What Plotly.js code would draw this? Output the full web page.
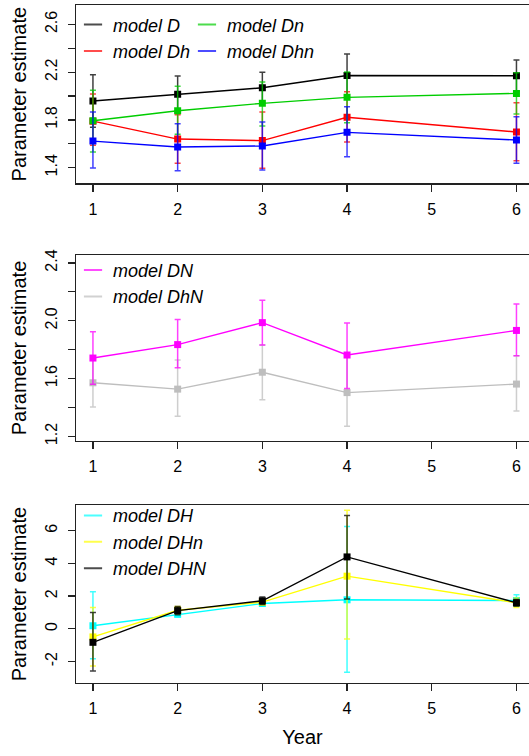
<!DOCTYPE html>
<html>
<head>
<meta charset="utf-8">
<script src="https://cdn.plot.ly/plotly-3.0.1.min.js"></script>
<style>
  html, body { margin: 0; padding: 0; background: #ffffff; }
  #chart { width: 529px; height: 756px; }
</style>
</head>
<body>
<div id="chart"></div>
<script>
// Survey years with estimates
const years = [1, 2, 3, 4, 6];
const yearTicks = [1, 2, 3, 4, 5, 6];
const yearLabels = ['1', '2', '3', '4', '5', '6'];

// Labelled y ticks per panel
const ticksTop = [1.4, 1.8, 2.2, 2.6];
const labelsTop = ['1.4', '1.8', '2.2', '2.6'];
const ticksMid = [1.2, 1.6, 2.0, 2.4];
const labelsMid = ['1.2', '1.6', '2.0', '2.4'];
const ticksBot = [-2, 0, 2, 4, 6];
const labelsBot = ['-2', '0', '2', '4', '6'];

// Top panel: models D, Dh, Dn, Dhn (estimate, lower and upper bound)
const estD   = [1.958, 2.014, 2.069, 2.172, 2.170];
const loD    = [1.738, 1.861, 1.939, 1.993, 2.040];
const hiD    = [2.178, 2.167, 2.199, 2.351, 2.301];

const estDh  = [1.790, 1.640, 1.627, 1.822, 1.699];
const loDh   = [1.588, 1.437, 1.395, 1.615, 1.459];
const hiDh   = [2.017, 1.843, 1.867, 2.036, 1.944];

const estDn  = [1.793, 1.877, 1.939, 1.989, 2.022];
const loDn   = [1.532, 1.680, 1.750, 1.777, 1.849];
const hiDn   = [2.048, 2.081, 2.118, 2.201, 2.195];

const estDhn = [1.623, 1.573, 1.582, 1.696, 1.632];
const loDhn  = [1.398, 1.375, 1.381, 1.492, 1.437];
const hiDhn  = [1.867, 1.768, 1.782, 1.910, 1.827];

// Middle panel: models DN and DhN
const estDN  = [1.742, 1.835, 1.987, 1.763, 1.933];
const loDN   = [1.560, 1.674, 1.833, 1.531, 1.758];
const hiDN   = [1.924, 2.008, 2.141, 1.984, 2.115];

const estDhN = [1.571, 1.527, 1.644, 1.503, 1.562];
const loDhN  = [1.403, 1.340, 1.454, 1.270, 1.375];
const hiDhN  = [1.739, 1.728, 1.833, 1.751, 1.758];

// Bottom panel: models DH, DHn and DHN
const estDH  = [0.186, 0.887, 1.546, 1.773, 1.732];
const loDH   = [-1.835, 0.737, 1.446, -2.660, 1.382];
const hiDH   = [2.268, 1.037, 1.646, 6.247, 2.082];

const estDHn = [-0.495, 1.134, 1.629, 3.216, 1.588];
const loDHn  = [-2.268, 0.907, 1.479, -0.619, 1.300];
const hiDHn  = [1.299, 1.361, 1.779, 7.237, 1.876];

const estDHN = [-0.825, 1.113, 1.711, 4.392, 1.588];
const loDHN  = [-2.577, 0.863, 1.481, 1.814, 1.388];
const hiDHN  = [0.990, 1.363, 1.941, 6.928, 1.788];

const FONT = 'Liberation Sans, Arial, Helvetica, sans-serif';

function rgba(hex, a) {
  const n = parseInt(hex.slice(1), 16);
  return 'rgba(' + ((n >> 16) & 255) + ',' + ((n >> 8) & 255) + ',' + (n & 255) + ',' + a + ')';
}

// One model: connected squares with asymmetric confidence bars
function series(est, lo, hi, color, axisNo) {
  const sfx = axisNo === 1 ? '' : String(axisNo);
  return {
    type: 'scatter', mode: 'lines+markers',
    x: years, y: est,
    xaxis: 'x' + sfx, yaxis: 'y' + sfx,
    line: { color: color, width: 1.4 },
    marker: { symbol: 'square', size: 7, color: color },
    error_y: {
      type: 'data', symmetric: false,
      array: hi.map((h, i) => h - est[i]),
      arrayminus: lo.map((l, i) => est[i] - l),
      color: rgba(color, 0.75), thickness: 1.5, width: 3
    },
    showlegend: false, hoverinfo: 'x+y'
  };
}

// Legend key: short horizontal dash, label in italics
function key(name, color, axisNo, legendId) {
  const sfx = axisNo === 1 ? '' : String(axisNo);
  return {
    type: 'scatter', mode: 'markers', name: name,
    x: [null], y: [null],
    xaxis: 'x' + sfx, yaxis: 'y' + sfx,
    marker: { symbol: 'line-ew', size: 13, color: rgba(color, 0.7),
              line: { color: rgba(color, 0.7), width: 2 } },
    legend: legendId, showlegend: true
  };
}

const C = {
  D: '#000000', Dh: '#FF0000', Dn: '#00CD00', Dhn: '#0000FF',
  DN: '#FF00FF', DhN: '#BEBEBE',
  DH: '#00FFFF', DHn: '#FFFF00', DHN: '#000000'
};

const data = [
  series(estD, loD, hiD, C.D, 1),
  series(estDh, loDh, hiDh, C.Dh, 1),
  series(estDn, loDn, hiDn, C.Dn, 1),
  series(estDhn, loDhn, hiDhn, C.Dhn, 1),
  series(estDhN, loDhN, hiDhN, C.DhN, 2),
  series(estDN, loDN, hiDN, C.DN, 2),
  series(estDH, loDH, hiDH, C.DH, 3),
  series(estDHn, loDHn, hiDHn, C.DHn, 3),
  series(estDHN, loDHN, hiDHN, C.DHN, 3),

  key('model D', C.D, 1, 'legend'),
  key('model Dh', C.Dh, 1, 'legend'),
  key('model Dn', C.Dn, 1, 'legend4'),
  key('model Dhn', C.Dhn, 1, 'legend4'),
  key('model DN', C.DN, 2, 'legend2'),
  key('model DhN', C.DhN, 2, 'legend2'),
  key('model DH', C.DH, 3, 'legend3'),
  key('model DHn', C.DHn, 3, 'legend3'),
  key('model DHN', C.DHN, 3, 'legend3')
];

const axisLine = { showline: true, linecolor: '#222222', linewidth: 1.2,
                   ticks: 'outside', ticklen: 7, tickwidth: 1.2, tickcolor: '#222222',
                   showgrid: false, zeroline: false, automargin: false,
                   tickfont: { family: FONT, size: 16, color: '#000000' } };

function xAxis(anchor, withTitle) {
  const ax = Object.assign({}, axisLine, {
    anchor: anchor, range: [0.8, 6.148], mirror: true,
    tickmode: 'array', tickvals: yearTicks, ticktext: yearLabels,
    ticklabelstandoff: 4
  });
  if (withTitle) {
    ax.title = { text: 'Year', font: { family: FONT, size: 20, color: '#000000' }, standoff: 13 };
  }
  return ax;
}

function yAxis(anchor, domain, range, tv, tt, minorStep) {
  const ax = Object.assign({}, axisLine, {
    anchor: anchor, domain: domain, range: range, mirror: false,
    tickmode: 'array', tickvals: tv, ticktext: tt, tickangle: -90,
    ticklabelstandoff: 4,
    title: { text: 'Parameter estimate', font: { family: FONT, size: 20, color: '#000000' }, standoff: 11 }
  });
  if (minorStep) {
    ax.minor = { dtick: minorStep, tick0: 0, ticks: 'outside', ticklen: 7,
                 tickwidth: 1.2, tickcolor: '#222222', showgrid: false };
  }
  return ax;
}

function legendAt(x, y) {
  return { x: x, y: y, xanchor: 'left', yanchor: 'top',
           bgcolor: 'rgba(0,0,0,0)', borderwidth: 0, tracegroupgap: 0,
           font: { family: FONT, size: 18, color: '#000000', style: 'italic' } };
}

const layout = {
  width: 529, height: 756,
  margin: { l: 76, r: 0, t: 5, b: 73.3, autoexpand: false },
  paper_bgcolor: '#ffffff', plot_bgcolor: '#ffffff',
  font: { family: FONT, color: '#000000' },
  xaxis: xAxis('y', false),
  xaxis2: xAxis('y2', false),
  xaxis3: xAxis('y3', true),
  yaxis: yAxis('x', [0.7369, 1], [1.269, 2.762], ticksTop, labelsTop, 0.2),
  yaxis2: yAxis('x2', [0.3571, 0.6311], [1.169, 2.454], ticksMid, labelsMid, 0.2),
  yaxis3: yAxis('x3', [0, 0.2622], [-3.31, 7.55], ticksBot, labelsBot, null),
  legend: legendAt(-0.0066, 0.998),
  legend4: legendAt(0.245, 0.998),
  legend2: legendAt(-0.0066, 0.636),
  legend3: legendAt(-0.0066, 0.274),
  showlegend: true
};

Plotly.newPlot('chart', data, layout, { displayModeBar: false, staticPlot: true });
</script>
</body>
</html>
